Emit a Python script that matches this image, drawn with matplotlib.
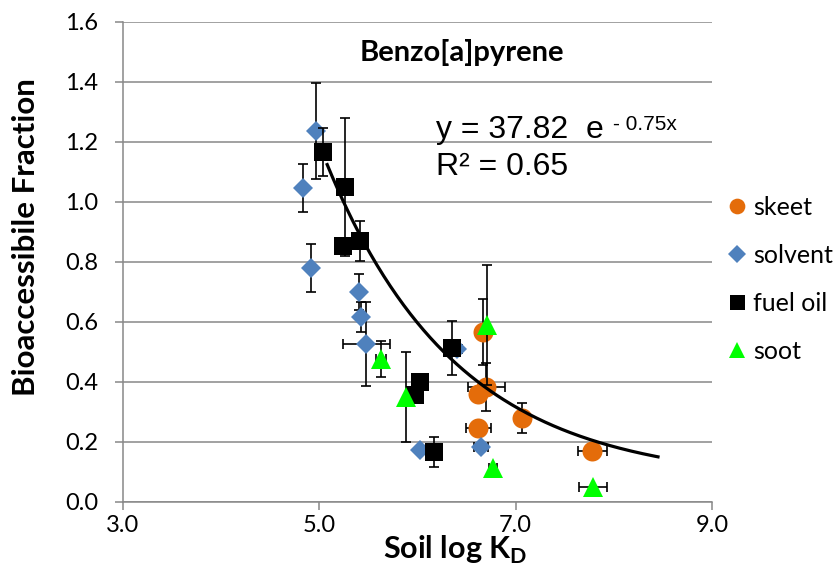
import matplotlib
matplotlib.use("Agg")
import matplotlib.pyplot as plt
from matplotlib.lines import Line2D
import numpy as np

# ---- data ----
skeet_x    = [6.67, 6.62, 6.70, 6.62, 7.06, 7.78]
skeet_y    = [0.567, 0.36, 0.385, 0.247, 0.28, 0.17]
skeet_xerr = [0.0, 0.0, 0.19, 0.13, 0.0, 0.15]
skeet_yerr = [0.11, 0.0, 0.08, 0.02, 0.05, 0.01]

solvent_x    = [4.97, 4.83, 4.92, 5.40, 5.42, 5.48, 6.03, 6.40, 6.65]
solvent_y    = [1.237, 1.047, 0.78, 0.70, 0.617, 0.527, 0.173, 0.51, 0.183]
solvent_xerr = [0.0, 0.0, 0.0, 0.0, 0.0, 0.235, 0.0, 0.05, 0.07]
solvent_yerr = [0.16, 0.08, 0.08, 0.06, 0.05, 0.14, 0.0, 0.0, 0.0]

fuel_x    = [5.04, 5.26, 5.24, 5.41, 6.35, 6.03, 5.97, 6.17]
fuel_y    = [1.167, 1.05, 0.853, 0.87, 0.513, 0.40, 0.357, 0.167]
fuel_xerr = [0.0, 0.0, 0.0, 0.0, 0.0, 0.0, 0.0, 0.0]
fuel_yerr = [0.08, 0.23, 0.0, 0.067, 0.09, 0.0, 0.0, 0.05]

soot_x    = [5.63, 5.88, 6.71, 6.77, 7.79]
soot_y    = [0.477, 0.35, 0.59, 0.113, 0.05]
soot_xerr = [0.05, 0.0, 0.0, 0.04, 0.14]
soot_yerr = [0.06, 0.15, 0.20, 0.0, 0.0]

series_names = ["skeet", "solvent", "fuel oil", "soot"]
series_colors = ["#E46C0A", "#4F81BD", "#000000", "#00FF00"]
series_markers = ["o", "D", "s", "^"]
series_sizes = [14.4, 10.2, 13.4, 14.5]
legend_sizes = [11.3, 9.3, 10.8, 11.3]

# trend line as drawn on the chart: y = a*exp(-b*x) + c
trend_a, trend_b, trend_c = 47.8, 0.75, 0.066
trend_xmin, trend_xmax = 5.08, 8.45

x_ticks = [3.0, 5.0, 7.0, 9.0]
y_ticks = [0.0, 0.2, 0.4, 0.6, 0.8, 1.0, 1.2, 1.4, 1.6]

title_text = "Benzo[a]pyrene"
eq_main = "y = 37.82"
eq_e = "e"
eq_exp = "- 0.75x"
r2_text = "R\u00b2 = 0.65"

# ---- figure ----
W, H = 838, 575
fig = plt.figure(figsize=(W / 100, H / 100), dpi=100)
ax = fig.add_axes([123 / W, 1 - 502 / H, (712 - 123) / W, (502 - 22) / H])

grid_c = "#888888"
ax.set_xlim(3.0, 9.0)
ax.set_ylim(0.0, 1.6)
ax.set_xticks(x_ticks)
ax.set_yticks(y_ticks)
ax.set_xticklabels([f"{v:.1f}" for v in x_ticks])
ax.set_yticklabels([f"{v:.1f}" for v in y_ticks])
ax.yaxis.grid(True, color=grid_c, linewidth=1.1)
ax.set_axisbelow(True)
for s in ["top", "right"]:
    ax.spines[s].set_visible(False)
for s in ["left", "bottom"]:
    ax.spines[s].set_color(grid_c)
    ax.spines[s].set_linewidth(1.1)
ax.tick_params(axis="both", direction="out", length=6, width=1.1, color=grid_c,
               labelsize=17)
ax.tick_params(axis="y", pad=12)
ax.tick_params(axis="x", pad=3)
for lab in ax.get_xticklabels() + ax.get_yticklabels():
    lab.set_family("Lato")

all_x = [skeet_x, solvent_x, fuel_x, soot_x]
all_y = [skeet_y, solvent_y, fuel_y, soot_y]
all_xe = [skeet_xerr, solvent_xerr, fuel_xerr, soot_xerr]
all_ye = [skeet_yerr, solvent_yerr, fuel_yerr, soot_yerr]

for i in range(4):
    ax.errorbar(all_x[i], all_y[i], xerr=all_xe[i], yerr=all_ye[i], fmt="none",
                ecolor="black", elinewidth=1.2, capsize=3.6, capthick=1.2,
                zorder=2 + i * 2)
    ax.plot(all_x[i], all_y[i], linestyle="none", marker=series_markers[i],
            markersize=series_sizes[i], color=series_colors[i],
            markeredgewidth=0, zorder=3 + i * 2)

tx = np.linspace(trend_xmin, trend_xmax, 200)
ax.plot(tx, trend_a * np.exp(-trend_b * tx) + trend_c, color="black",
        linewidth=2.3, zorder=12)

# texts
ax.text(0.5756, 0.9375, title_text, transform=ax.transAxes, ha="center", va="center",
        fontsize=21, fontweight="bold", family="Lato")
ax.text(6.184, 1.214, eq_main, ha="left", va="baseline", fontsize=23,
        family="Liberation Sans")
ax.text(7.71, 1.214, eq_e, ha="left", va="baseline", fontsize=23,
        family="Liberation Sans")
ax.text(7.99, 1.24, eq_exp, ha="left", va="baseline", fontsize=15,
        family="Liberation Sans")
ax.text(6.184, 1.09, r2_text, ha="left", va="baseline", fontsize=23,
        family="Liberation Sans")

ax.set_xlabel("Soil log K$_\\mathregular{D}$", fontsize=22, fontweight="bold",
              family="Lato")
ax.xaxis.set_label_coords((455 - 123) / 589, -0.066)
ax.set_ylabel("Bioaccessibile Fraction", fontsize=22.5, fontweight="bold",
              family="Lato")
ax.yaxis.set_label_coords((40 - 123) / 589, (502 - 237) / 480)

handles = [Line2D([], [], linestyle="none", marker=series_markers[i],
                  markersize=legend_sizes[i], color=series_colors[i],
                  markeredgewidth=0) for i in range(4)]
leg = ax.legend(handles, series_names, loc="upper left",
                bbox_to_anchor=(728 / W, 1 - 196 / H), bbox_transform=fig.transFigure,
                frameon=False, prop={"family": "Lato", "size": 18},
                handlelength=0.7, handletextpad=0.3, labelspacing=1.0,
                borderaxespad=0, borderpad=0)

fig.savefig("out.png", dpi=100)
